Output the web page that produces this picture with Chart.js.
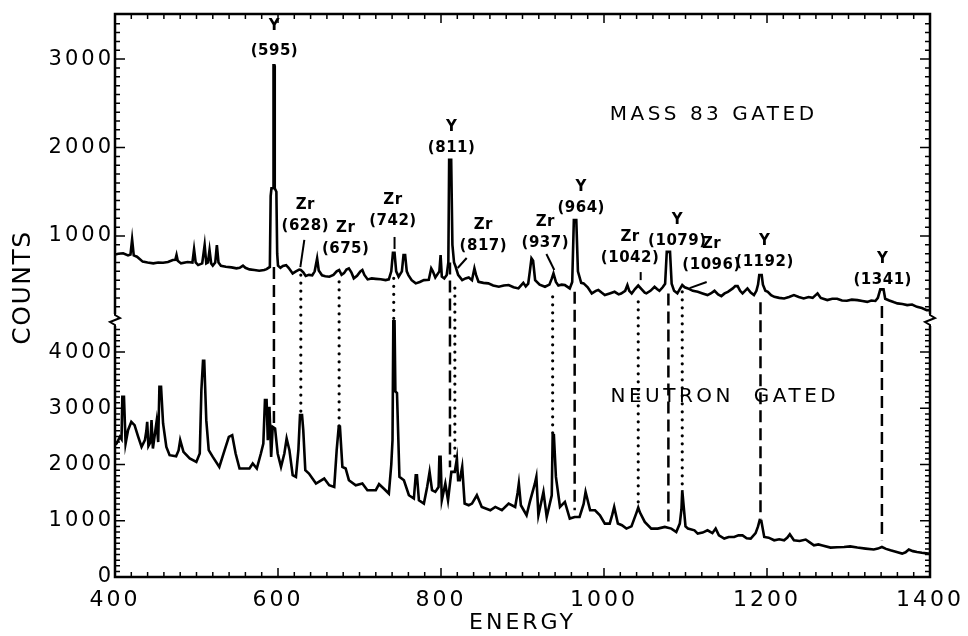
<!DOCTYPE html>
<html>
<head>
<meta charset="utf-8">
<script src="https://cdn.jsdelivr.net/npm/chart.js@4.4.1/dist/chart.umd.min.js"></script>
<style>
  html, body { margin: 0; padding: 0; background: #fff; }
  canvas { display: block; }
</style>
</head>
<body>
<canvas id="spectrum" width="968" height="636"></canvas>
<script>
// gamma spectra: [energy, counts]
const massGated = [
  [400,790],[404,800],[410,805],[416,780],[419,790],[421,960],[423,780],[427,766],[434,710],[440,700],
  [447,690],[453,700],[459,697],[465,705],[471,728],[474,730],[475.5,785],[477,720],[481,690],[489,705],
  [495,700],[497,849],[499,700],[502,671],[507,690],[510,898],[512,690],[514,700],[516,841],[518,690],
  [520,665],[523,700],[525,898],[527,700],[530,663],[536,652],[543,645],[549,634],[553,640],[557,665],
  [560,640],[565,622],[571,615],[577,607],[583,615],[586,625],[590,650],[591,1450],[592,1540],[594,1540],
  [594.5,2930],[595.5,2930],[596,1540],[598,1500],[599,800],[600,665],[603,640],[606,660],[610,670],[613,640],
  [618,577],[622,600],[626,620],[628,615],[631,590],[634,547],[638,560],[642,555],[645,600],[648,747],
  [650,610],[654,555],[658,545],[663,539],[668,560],[672,600],[675,615],[678,560],[681,580],[684,620],
  [687,634],[690,590],[693,521],[697,550],[701,600],[703.5,615],[706,560],[710,509],[715,520],[720,515],
  [726,510],[732,501],[736,510],[739,600],[741,810],[743,810],[745,600],[748,540],[752,600],[754,785],
  [756,785],[758,600],[760,558],[764,500],[769,464],[774,480],[779,501],[785,505],[788,634],[790,600],
  [793,530],[798,600],[799.5,785],[801,540],[804,520],[807,560],[809,700],[810,1860],[812.5,1860],[814,900],
  [816,700],[818,652],[821,560],[826,501],[830,520],[834,530],[838,500],[841,634],[843,560],[846,482],
  [852,470],[858,464],[864,440],[871,426],[877,440],[883,445],[889,420],[895,407],[901,470],[904,430],
  [907,460],[909,600],[911,747],[913,720],[915.5,501],[921,450],[927.6,426],[933,450],[936,520],[938,577],
  [941,480],[944,440],[948,450],[952,445],[958,407],[961,480],[963,1180],[966,1180],[968,600],[972,470],
  [975,464],[980,420],[985,351],[990,380],[993,390],[997,360],[1001,332],[1007,350],[1013,369],[1018,340],
  [1021,350],[1026,380],[1028.7,445],[1031,380],[1034,350],[1038,400],[1042,440],[1046,400],[1050,360],[1052,351],
  [1057,380],[1062,426],[1065,400],[1068,380],[1072,420],[1075,460],[1077,820],[1081,820],[1083,460],[1086,380],
  [1090,351],[1093,400],[1096,445],[1099,420],[1103,407],[1109,380],[1115,369],[1121,350],[1127,332],[1131,350],
  [1135.6,380],[1140,340],[1144,320],[1148,350],[1152,369],[1158,407],[1161,433],[1164,433],[1167,380],[1170,351],
  [1176,407],[1180,360],[1184,332],[1187,380],[1189,450],[1190.5,558],[1193.5,558],[1195,450],[1198,380],[1201,369],
  [1205,330],[1209,312],[1215,300],[1221,293],[1227,310],[1233,332],[1239,310],[1245,293],[1251,310],[1256,300],
  [1262,351],[1266,300],[1274,275],[1280,290],[1286,290],[1292,270],[1298,268],[1304,280],[1311,275],[1317,265],
  [1323,255],[1328,270],[1333,265],[1336,300],[1339,396],[1343,396],[1345,290],[1350,270],[1356,250],[1360,238],
  [1366,230],[1372,218],[1378,225],[1384,199],[1390,185],[1396,162],[1400,160]
];

const neutronGated = [
  [400,2350],[402,2374],[406,2492],[408,2450],[409,3204],[411,3204],[413,2374],[416,2611],[420,2759],[424,2700],
  [428.5,2492],[432.6,2314],[436.7,2433],[438.5,2600],[439.5,2759],[441,2330],[443.5,2400],[444.8,2789],[446.5,2285],[451,2759],
  [453,2400],[454.5,3382],[456.5,3382],[459,2730],[463,2314],[467,2166],[475,2148],[478,2250],[480,2433],[484,2225],
  [491.7,2107],[499.8,2047],[504,2196],[506,3323],[508,3845],[509.5,3845],[512,2789],[515,2255],[520,2136],[528,1958],
  [534.5,2255],[539.7,2492],[543.8,2522],[548,2196],[552.8,1929],[565,1929],[569,2018],[574,1929],[579,2196],[582,2374],
  [584,3145],[586,3145],[587.5,2433],[589.5,3026],[591.6,2136],[593.5,2670],[596.4,2641],[599.6,2196],[603.7,1958],[607.8,2196],
  [610.6,2463],[614,2255],[618,1810],[622,1780],[625,2255],[627,2878],[629.5,2878],[631,2611],[633.5,1899],[638,1840],
  [646.6,1662],[651,1700],[656.7,1751],[662.8,1632],[669,1602],[672,2255],[674.5,2670],[676,2670],[679,1958],[683,1929],
  [687,1721],[695.4,1632],[703.5,1662],[709.7,1543],[720,1543],[724,1650],[730,1570],[736,1484],[739,2000],[740.5,2433],
  [741.5,4550],[743,4550],[744,3300],[746,3270],[749,1780],[754.5,1721],[760.6,1454],[766.7,1395],[769,1810],[770.5,1810],
  [772.9,1365],[779,1306],[783,1602],[786,1869],[789,1543],[793,1513],[797,1600],[798,2136],[799.5,2136],[801,1365],
  [805.3,1662],[808.6,1365],[812.7,1869],[816.9,1869],[819.5,2107],[821,1720],[823,1720],[826,1958],[829,1306],[834,1276],
  [838,1306],[844,1454],[850,1246],[860.5,1187],[866.6,1246],[874.7,1187],[883,1306],[891,1246],[894,1500],[895.5,1662],
  [898,1276],[905,1098],[909,1335],[915,1650],[917,1780],[919.5,1098],[925.7,1513],[929.7,1068],[935.9,1454],[937,2522],
  [938.5,2522],[941,1780],[946,1246],[952,1335],[958,1039],[964,1068],[970,1068],[975,1300],[977.4,1513],[983,1187],
  [989,1187],[995,1098],[1001,950],[1007,950],[1010,1100],[1012.5,1246],[1017,950],[1022,920],[1027.5,861],[1033.7,900],
  [1040,1150],[1042,1235],[1044,1150],[1050,979],[1058,861],[1066,861],[1074.6,890],[1082.6,861],[1088.7,801],[1093,950],
  [1095,1200],[1096,1543],[1097.5,1300],[1100,900],[1103,861],[1111,830],[1115,772],[1121,790],[1127,830],[1133,780],
  [1137,861],[1141,740],[1147.5,683],[1153,712],[1159.7,712],[1165,740],[1170,740],[1175,690],[1180,683],[1186,780],
  [1189,900],[1191,1009],[1193,1000],[1196.6,712],[1202,700],[1208.8,653],[1215,670],[1221,653],[1225,700],[1228,760],
  [1233,653],[1240,640],[1247.5,666],[1252,620],[1257.6,564],[1263,580],[1268,560],[1278,523],[1286,530],[1294.5,534],
  [1302,545],[1310.8,523],[1321,505],[1331,488],[1336,505],[1341,534],[1346,500],[1351.5,475],[1358,450],[1365.8,416],
  [1370,440],[1374,488],[1379,460],[1384,445],[1390,430],[1398,416],[1400,410]
];

// identified lines: dashed = Y, dotted = Zr
const peakEnergy = [595, 628, 675, 742, 811, 817, 937, 964, 1042, 1079, 1096, 1192, 1341];
const peakElement = ['Y', 'Zr', 'Zr', 'Zr', 'Y', 'Zr', 'Zr', 'Y', 'Zr', 'Y', 'Zr', 'Y', 'Y'];
const lineFrom = [650, 558, 482, 521, 700, 411, 312, 369, 256, 351, 369, 250, 207];      // counts, mass 83 panel
const lineTo = [2650, 2878, 2670, 4550, 1950, 2107, 2522, 1187, 1235, 979, 1543, 1039, 653]; // counts, neutron panel
const labelEnergy = [595.6, 633.5, 683, 741, 813, 852, 928, 972, 1032, 1090, 1132, 1197, 1342];
const labelCounts = [3085, 1113, 853, 1170, 1997, 887, 921, 1317, 751, 943, 671, 705, 501];
// short leader strokes from label to peak: [e1, c1, e2, c2]
const leaders = [
  [632.3, 955, 627.4, 649],
  [743, 989, 743, 853],
  [831.5, 751, 820.5, 638],
  [929.3, 796, 939, 615],
  [1045, 592, 1045, 501],
  [1126, 479, 1105, 411]
];

const ink = '#000';

function zigzag(ctx, x, y) {
  ctx.save();
  ctx.fillStyle = '#fff';
  ctx.fillRect(x - 3, y - 6, 6, 12);
  ctx.lineWidth = 2;
  ctx.setLineDash([]);
  ctx.beginPath();
  ctx.moveTo(x, y - 8);
  ctx.lineTo(x, y - 5);
  ctx.lineTo(x + 5, y - 2);
  ctx.lineTo(x - 5, y + 2);
  ctx.lineTo(x, y + 5);
  ctx.lineTo(x, y + 8);
  ctx.stroke();
  ctx.restore();
}

const decor = {
  id: 'decor',
  beforeDraw(chart) {
    chart.ctx.letterSpacing = '3px';
  },
  afterDraw(chart) {
    const { ctx, chartArea: a, scales } = chart;
    const x = scales.x, yt = scales.yTop, yb = scales.yBot;
    ctx.save();
    ctx.letterSpacing = '0px';
    ctx.strokeStyle = ink;
    ctx.fillStyle = ink;

    // frame
    ctx.lineWidth = 2.5;
    ctx.strokeRect(a.left, a.top, a.right - a.left, a.bottom - a.top);

    // inward tick marks
    ctx.lineWidth = 1.5;
    ctx.beginPath();
    x.ticks.forEach(t => {
      const px = x.getPixelForValue(t.value);
      const len = t.value % 200 === 0 ? 9 : 5;
      ctx.moveTo(px, a.bottom); ctx.lineTo(px, a.bottom - len);
      ctx.moveTo(px, a.top); ctx.lineTo(px, a.top + len);
    });
    [yt, yb].forEach(s => {
      s.ticks.forEach(t => {
        if (t.value % 100 !== 0) return;
        const py = s.getPixelForValue(t.value);
        const len = t.value % 1000 === 0 ? 10 : 5;
        ctx.moveTo(a.left, py); ctx.lineTo(a.left + len, py);
        ctx.moveTo(a.right, py); ctx.lineTo(a.right - len, py);
      });
    });
    ctx.stroke();

    // axis breaks
    zigzag(ctx, a.left, yt.bottom);
    zigzag(ctx, a.right, yt.bottom);

    // connectors between the two spectra
    peakEnergy.forEach((e, i) => {
      const px = x.getPixelForValue(e);
      if (peakElement[i] === 'Y') {
        ctx.setLineDash([12, 6]);
        ctx.lineCap = 'butt';
        ctx.lineWidth = 2.5;
      } else {
        ctx.setLineDash([0, 8]);
        ctx.lineCap = 'round';
        ctx.lineWidth = 3.2;
      }
      ctx.beginPath();
      ctx.moveTo(px, yt.getPixelForValue(lineFrom[i]));
      ctx.lineTo(px, yb.getPixelForValue(lineTo[i]));
      ctx.stroke();
    });
    ctx.setLineDash([]);
    ctx.lineCap = 'butt';

    // leaders
    ctx.lineWidth = 2;
    leaders.forEach(l => {
      ctx.beginPath();
      ctx.moveTo(x.getPixelForValue(l[0]), yt.getPixelForValue(l[1]));
      ctx.lineTo(x.getPixelForValue(l[2]), yt.getPixelForValue(l[3]));
      ctx.stroke();
    });

    // peak labels
    ctx.font = 'bold 15px "DejaVu Sans"';
    ctx.letterSpacing = '0.5px';
    ctx.textAlign = 'center';
    ctx.textBaseline = 'middle';
    peakEnergy.forEach((e, i) => {
      const px = x.getPixelForValue(labelEnergy[i]);
      const py = yt.getPixelForValue(labelCounts[i]);
      ctx.fillText('(' + e + ')', px, py);
      ctx.fillText(peakElement[i], px, py - (i === 0 ? 25 : 21));
    });

    // panel captions
    ctx.font = '20px "DejaVu Sans"';
    ctx.letterSpacing = '3.5px';
    ctx.textAlign = 'left';
    ctx.fillText('MASS 83 GATED', x.getPixelForValue(1007), yt.getPixelForValue(2371));
    ctx.fillText('NEUTRON  GATED', x.getPixelForValue(1008), yb.getPixelForValue(3199));

    // shared y title
    ctx.font = '25px "DejaVu Sans"';
    ctx.letterSpacing = '1.5px';
    ctx.textAlign = 'center';
    ctx.translate(23, (a.top + a.bottom) / 2 - 8);
    ctx.rotate(-Math.PI / 2);
    ctx.fillText('COUNTS', 0, 0);
    ctx.restore();
  }
};

const spectrumStyle = { borderColor: ink, borderWidth: 2.6, pointRadius: 0, tension: 0, fill: false };

new Chart(document.getElementById('spectrum'), {
  type: 'line',
  data: {
    datasets: [
      { ...spectrumStyle, label: 'MASS 83 GATED', yAxisID: 'yTop', data: massGated.map(p => ({ x: p[0], y: p[1] })) },
      { ...spectrumStyle, label: 'NEUTRON GATED', yAxisID: 'yBot', data: neutronGated.map(p => ({ x: p[0], y: p[1] })) }
    ]
  },
  options: {
    responsive: false,
    animation: false,
    devicePixelRatio: 1,
    layout: { padding: { top: 14, right: 35, left: 0, bottom: 0 } },
    plugins: { legend: { display: false }, tooltip: { enabled: false } },
    scales: {
      x: {
        type: 'linear', min: 400, max: 1400,
        grid: { display: false, drawTicks: false },
        border: { display: false },
        ticks: {
          stepSize: 20, autoSkip: false, maxRotation: 0, padding: 10, color: ink,
          font: { family: 'DejaVu Sans', size: 22 },
          callback: v => (v % 200 === 0 ? String(v) : '')
        },
        title: { display: true, text: 'ENERGY', color: ink, font: { family: 'DejaVu Sans', size: 22 }, padding: { top: 0, bottom: 0 } },
        afterFit: s => { s.height = 59; }
      },
      yBot: {
        type: 'linear', position: 'left', stack: 'counts', stackWeight: 257, min: 0, max: 4570,
        grid: { display: false, drawTicks: false },
        border: { display: false },
        ticks: {
          stepSize: 100, autoSkip: false, padding: 1, color: ink,
          font: { family: 'DejaVu Sans', size: 21 },
          callback: v => (v % 1000 === 0 ? String(v) : '')
        },
        afterFit: s => { s.width = 115; }
      },
      yTop: {
        type: 'linear', position: 'left', stack: 'counts', stackWeight: 306, min: 50, max: 3510,
        grid: { display: false, drawTicks: false },
        border: { display: false },
        ticks: {
          stepSize: 100, autoSkip: false, padding: 1, color: ink,
          font: { family: 'DejaVu Sans', size: 21 },
          callback: v => (v % 1000 === 0 ? String(v) : '')
        },
        afterFit: s => { s.width = 115; }
      }
    }
  },
  plugins: [decor]
});
</script>
</body>
</html>
